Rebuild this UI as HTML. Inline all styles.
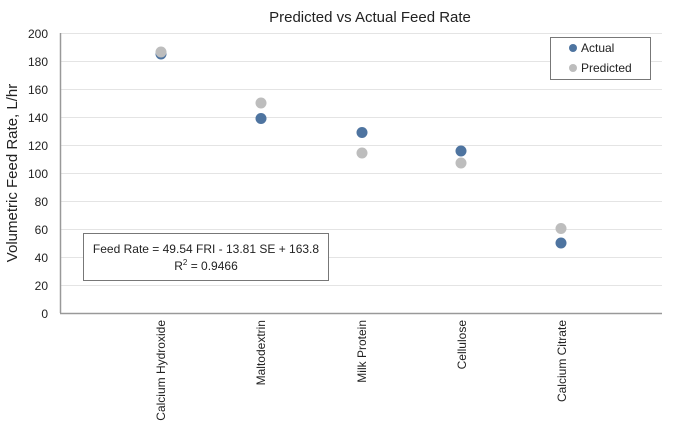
<!DOCTYPE html>
<html><head><style>body{margin:0;background:#fff}</style></head><body>
<svg width="673" height="433" xmlns="http://www.w3.org/2000/svg" font-family="Liberation Sans, sans-serif">
<rect width="673" height="433" fill="#fff"/>
<text x="370" y="22" font-size="15" text-anchor="middle" fill="#222">Predicted vs Actual Feed Rate</text>
<g stroke="#e4e4e4" stroke-width="1">
<line x1="60" x2="662" y1="33.5" y2="33.5"/><line x1="60" x2="662" y1="61.5" y2="61.5"/>
<line x1="60" x2="662" y1="89.5" y2="89.5"/><line x1="60" x2="662" y1="117.5" y2="117.5"/>
<line x1="60" x2="662" y1="145.5" y2="145.5"/><line x1="60" x2="662" y1="173.5" y2="173.5"/>
<line x1="60" x2="662" y1="201.5" y2="201.5"/><line x1="60" x2="662" y1="229.5" y2="229.5"/>
<line x1="60" x2="662" y1="257.5" y2="257.5"/><line x1="60" x2="662" y1="285.5" y2="285.5"/>
</g>
<line x1="60.5" x2="60.5" y1="33" y2="313" stroke="#999" stroke-width="1.5"/>
<line x1="60" x2="662" y1="313.5" y2="313.5" stroke="#999" stroke-width="1.5"/>
<g font-size="12" fill="#222" text-anchor="end">
<text x="48" y="38">200</text><text x="48" y="66">180</text><text x="48" y="94">160</text>
<text x="48" y="122">140</text><text x="48" y="150">120</text><text x="48" y="178">100</text>
<text x="48" y="206">80</text><text x="48" y="234">60</text><text x="48" y="262">40</text>
<text x="48" y="290">20</text><text x="48" y="318">0</text>
</g>
<text transform="translate(17,173) rotate(-90)" font-size="15" text-anchor="middle" fill="#222">Volumetric Feed Rate, L/hr</text>
<g font-size="12" fill="#222" text-anchor="end">
<text transform="translate(165,320) rotate(-90)">Calcium Hydroxide</text>
<text transform="translate(265,320) rotate(-90)">Maltodextrin</text>
<text transform="translate(366,320) rotate(-90)">Milk Protein</text>
<text transform="translate(466,320) rotate(-90)">Cellulose</text>
<text transform="translate(566,320) rotate(-90)">Calcium Citrate</text>
</g>
<g fill="#4e74a0">
<circle cx="161" cy="54" r="5.5"/><circle cx="261" cy="118.5" r="5.5"/>
<circle cx="362" cy="132.5" r="5.5"/><circle cx="461" cy="151" r="5.5"/><circle cx="561" cy="243" r="5.5"/>
</g>
<g fill="#bdbdbd">
<circle cx="161" cy="52" r="5.5"/><circle cx="261" cy="103" r="5.5"/>
<circle cx="362" cy="153" r="5.5"/><circle cx="461" cy="163" r="5.5"/><circle cx="561" cy="228.5" r="5.5"/>
</g>
<rect x="83.5" y="233.5" width="245" height="47" fill="#fff" stroke="#777"/>
<text x="206" y="253" font-size="12" text-anchor="middle" fill="#222">Feed Rate = 49.54 FRI - 13.81 SE + 163.8</text>
<text x="206" y="270" font-size="12" text-anchor="middle" fill="#222">R<tspan font-size="8" dy="-5">2</tspan><tspan dy="5"> = 0.9466</tspan></text>
<rect x="550.5" y="37.5" width="100" height="42" fill="#fff" stroke="#777"/>
<circle cx="573" cy="48" r="4" fill="#4e74a0"/><text x="581" y="52" font-size="12" fill="#222">Actual</text>
<circle cx="573" cy="68" r="4" fill="#bdbdbd"/><text x="581" y="72" font-size="12" fill="#222">Predicted</text>
</svg>
</body></html>
